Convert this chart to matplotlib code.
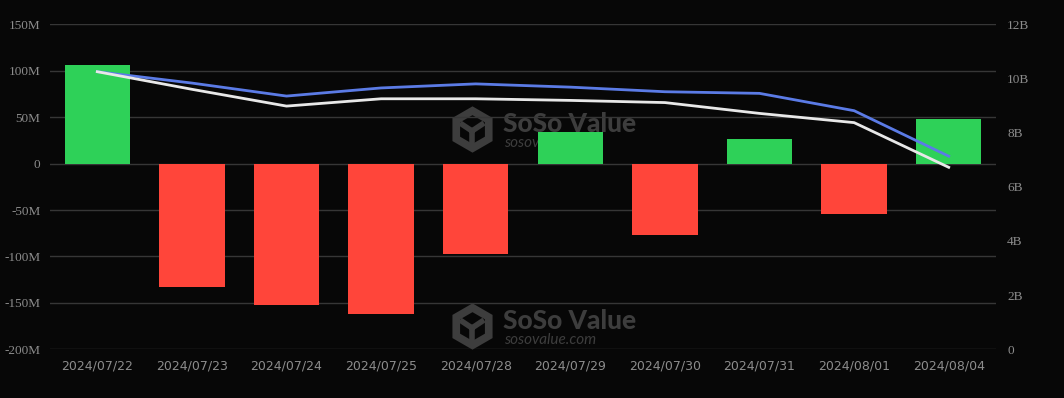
import numpy as np
import matplotlib.pyplot as plt
from matplotlib.ticker import FuncFormatter

# données
dates = ['2024/07/22', '2024/07/23', '2024/07/24', '2024/07/25', '2024/07/28',
         '2024/07/29', '2024/07/30', '2024/07/31', '2024/08/01', '2024/08/04']
net_flow = [106.5, -133, -152, -162, -97.5, 33.5, -76.5, 27, -54, 48.5]   # M
total_assets = [10.25, 9.83, 9.35, 9.65, 9.80, 9.68, 9.51, 9.45, 8.81, 7.13]  # B
total_value = [10.25, 9.60, 8.98, 9.25, 9.25, 9.19, 9.11, 8.71, 8.37, 6.72]   # B

bg = '#070707'
grid_c = '#363636'
txt_c = '#8c8c8c'
wm_c = '#3d3d3d'
W, H = 1064, 398

fig = plt.figure(figsize=(10.64, 3.98), dpi=100, facecolor=bg)
ax = fig.add_axes([50 / W, 1 - 349.3 / H, 946 / W, 325 / H])
ax.set_facecolor(bg)

x = np.arange(len(dates))
colors = ['#2ed158' if v >= 0 else '#ff453a' for v in net_flow]
ax.bar(x, net_flow, width=0.69, color=colors, zorder=3)

ax.set_xlim(-0.5, len(dates) - 0.5)
ax.set_ylim(-200, 150)
ax.set_yticks(np.arange(-200, 151, 50))
ax.yaxis.set_major_formatter(FuncFormatter(lambda v, p: '0' if v == 0 else f'{int(v)}M'))
ax.grid(axis='y', color=grid_c, linewidth=1, zorder=0)
ax.set_xticks(x)
ax.set_xticklabels(dates, fontsize=9, color=txt_c, family='DejaVu Sans')
for lab in ax.get_yticklabels():
    lab.set_family('Liberation Serif')
    lab.set_fontsize(9.5)
    lab.set_color(txt_c)
ax.tick_params(length=0, pad=7)
for s in ax.spines.values():
    s.set_visible(False)

# filigranes (coordonnées en pixels de la figure)
tf = fig.transFigure
for cy in [129, 326]:
    ax.plot([471.5 / W], [1 - cy / H], marker='h', ms=27, mfc='none', mec=wm_c,
            mew=5.5, transform=tf, zorder=1, clip_on=False)
    ax.plot([471.5 / W], [1 - (cy + 2) / H], marker='1', ms=22, mec=wm_c,
            mew=4, transform=tf, zorder=1, clip_on=False)
    ax.text(503 / W, 1 - (cy - 5) / H, 'SoSo Value', transform=tf, fontsize=19,
            fontweight='black', color=wm_c, family='Lato', va='center', zorder=1)
    ax.text(504 / W, 1 - (cy + 14) / H, 'sosovalue.com', transform=tf, fontsize=11,
            style='italic', color=wm_c, family='Lato', va='center', zorder=1)

ax2 = ax.twinx()
ax2.set_ylim(0, 12)
ax2.set_yticks(np.arange(0, 13, 2))
ax2.yaxis.set_major_formatter(FuncFormatter(lambda v, p: '0' if v == 0 else f'{int(v)}B'))
ax2.plot(x, total_assets, color='#5b7be6', linewidth=2, zorder=4)
ax2.plot(x, total_value, color='#e8e8e8', linewidth=2, zorder=4)
for lab in ax2.get_yticklabels():
    lab.set_family('Liberation Serif')
    lab.set_fontsize(9.5)
    lab.set_color(txt_c)
ax2.tick_params(length=0, pad=8)
for s in ax2.spines.values():
    s.set_visible(False)

fig.savefig('out.png', dpi=100, facecolor=bg)
